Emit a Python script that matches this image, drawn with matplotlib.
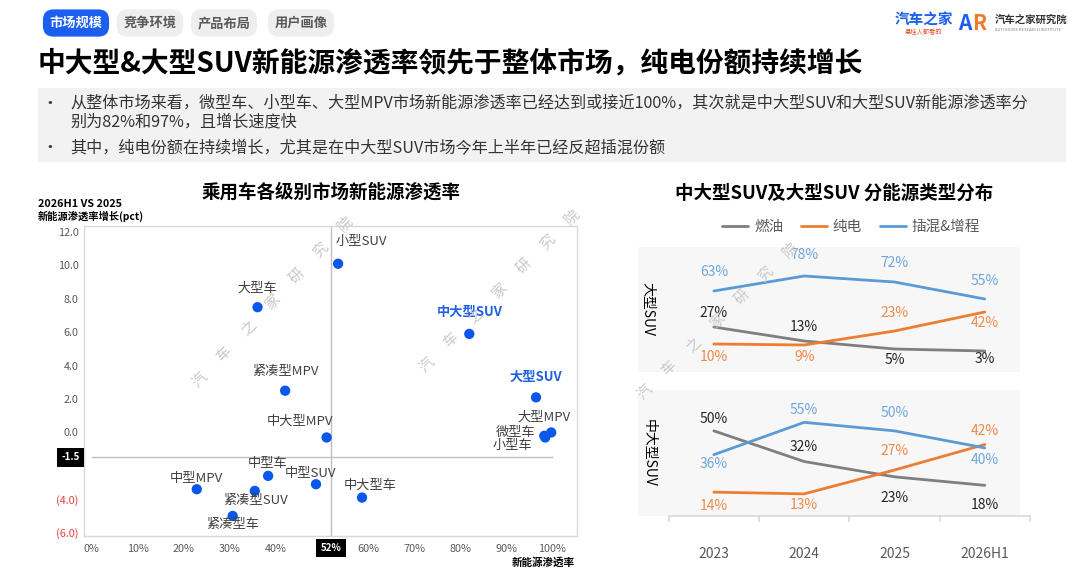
import matplotlib.pyplot as plt
import numpy as np
from matplotlib.patches import Rectangle
import matplotlib.transforms as mtransforms

plt.rcParams['font.family'] = ['Noto Sans CJK SC', 'DejaVu Sans']

W, H = 1080, 578

# ---- data: scatter (渗透率 %, 增长 pct)
names = ['小型SUV', '大型车', '紧凑型MPV', '中大型MPV', '中型车', '中型SUV', '中型MPV',
         '紧凑型SUV', '紧凑型车', '中大型车', '中大型SUV', '大型SUV', '大型MPV', '微型车', '小型车']
pen = [53.5, 36.0, 42.0, 51.0, 38.3, 48.7, 22.8, 35.4, 30.6, 58.7, 82.0, 96.5, 99.8, 98.5, 98.3]
grow = [10.1, 7.5, 2.5, -0.3, -2.6, -3.1, -3.4, -3.5, -5.0, -3.9, 5.9, 2.1, 0.0, -0.3, -0.2]
cross_x = 52
cross_y = -1.5
highlight = ['中大型SUV', '大型SUV']

# ---- data: energy type shares
years = ['2023', '2024', '2025', '2026H1']
series = ['燃油', '纯电', '插混&增程']
large_suv = {'燃油': [27, 13, 5, 3], '纯电': [10, 9, 23, 42], '插混&增程': [63, 78, 72, 55]}
midlarge_suv = {'燃油': [50, 32, 23, 18], '纯电': [14, 13, 27, 42], '插混&增程': [36, 55, 50, 40]}

line_col = {'燃油': '#7f7f7f', '纯电': '#ed7d31', '插混&增程': '#5b9bd5'}
lab_col = {'燃油': '#262626', '纯电': '#f08a4b', '插混&增程': '#6fa6dc'}

# label offsets (px) for the scatter labels: dx, dy, ha
lab_off = {'小型SUV': (-3, 22, 'left'), '大型车': (0, 19, 'center'), '紧凑型MPV': (0, 19, 'center'),
           '中大型MPV': (-27, 16, 'center'), '中型车': (-1, 12, 'center'), '中型SUV': (-6, 11, 'center'),
           '中型MPV': (0, 11, 'center'), '紧凑型SUV': (1, -10, 'center'), '紧凑型车': (0, -9, 'center'),
           '中大型车': (8, 12, 'center'), '中大型SUV': (0, 22, 'center'), '大型SUV': (0, 21, 'center'),
           '大型MPV': (-7, 15, 'center'), '微型车': (-10, 5, 'right'), '小型车': (-12, -10, 'right')}
top_off = {'燃油': [14, 14, -11, -8], '纯电': [-13, -12, 18, -11], '插混&增程': [19, 21, 19, 18]}
bot_off = {'燃油': [12, 15, -21, -20], '纯电': [-14, -11, 19, 13], '插混&增程': [-9, 12, 18, -12]}


def fx(x):
    return x / W


def fy(y):
    return 1 - y / H


def rect(x0, y0, x1, y1):
    return [x0 / W, 1 - y1 / H, (x1 - x0) / W, (y1 - y0) / H]


fig = plt.figure(figsize=(W / 100, H / 100), dpi=100)
fig.patch.set_facecolor('white')

# ---- header tabs
tabs = ['市场规模', '竞争环境', '产品布局', '用户画像']
tab_x = [76, 150, 224, 301]
for i, t in enumerate(tabs):
    if i == 0:
        fig.text(fx(tab_x[i]), fy(23), t, ha='center', va='center', fontsize=9.5, color='white',
                 weight='bold', bbox=dict(boxstyle='round,pad=0.5,rounding_size=0.8', fc='#1a5ff0', ec='none'))
    else:
        fig.text(fx(tab_x[i]), fy(23), t, ha='center', va='center', fontsize=9.5, color='#595959',
                 weight='bold', bbox=dict(boxstyle='round,pad=0.5,rounding_size=0.8', fc='#eeeeee', ec='none'))

# logos
fig.text(fx(924), fy(20), '汽车之家', ha='center', va='center', fontsize=10.5, color='#1a5ff0', weight='bold')
fig.text(fx(924), fy(32), '悬挂人都看的', ha='center', va='center', fontsize=4.5, color='#e8502a')
fig.text(fx(958), fy(23), 'A', ha='left', va='center', fontsize=15, color='#1a5ff0', weight='bold')
fig.text(fx(972), fy(23), 'R', ha='left', va='center', fontsize=15, color='#f07a2a', weight='bold')
fig.text(fx(995), fy(20), '汽车之家研究院', ha='left', va='center', fontsize=7.5, color='#333333', weight='bold')
fig.text(fx(995), fy(30), 'AUTOHOME RESEARCH INSTITUTE', ha='left', va='center', fontsize=3, color='#888888')

# title
fig.text(fx(38), fy(63), '中大型&大型SUV新能源渗透率领先于整体市场，纯电份额持续增长', ha='left', va='center',
         fontsize=20, weight='bold', color='#000000')

# bullet box
fig.patches.append(Rectangle((fx(38), fy(162)), fx(1066) - fx(38), fy(88) - fy(162),
                             transform=fig.transFigure, fc='#f2f2f2', ec='none', zorder=0))
bullets = [(103, '从整体市场来看，微型车、小型车、大型MPV市场新能源渗透率已经达到或接近100%，其次就是中大型SUV和大型SUV新能源渗透率分', True),
           (122, '别为82%和97%，且增长速度快', False),
           (148, '其中，纯电份额在持续增长，尤其是在中大型SUV市场今年上半年已经反超插混份额', True)]
for y, t, dot in bullets:
    if dot:
        fig.text(fx(50), fy(y), '•', ha='center', va='center', fontsize=12, color='#333333')
    fig.text(fx(70), fy(y), t, ha='left', va='center', fontsize=11.6, color='#333333')

# ---- scatter chart
ax = fig.add_axes(rect(84, 226, 577, 536))
ax.set_xlim(-1.7, 105.4)
ax.set_ylim(-6.2, 12.36)
for s in ax.spines.values():
    s.set_color('#d9d9d9')
    s.set_linewidth(1)
ax.axvline(cross_x, color='#bfbfbf', lw=1, zorder=1)
ax.plot([0, 100], [cross_y, cross_y], color='#bfbfbf', lw=1, zorder=1)
ax.scatter(pen, grow, s=55, color='#0b57eb', zorder=3, edgecolors='none')
for n, x, y in zip(names, pen, grow):
    dx, dy, ha = lab_off[n]
    if n in highlight:
        ax.annotate(n, (x, y), xytext=(dx * 0.72, dy * 0.72), textcoords='offset points', ha=ha,
                    va='center', fontsize=9.5, color='#2160e0', weight='bold')
    else:
        ax.annotate(n, (x, y), xytext=(dx * 0.72, dy * 0.72), textcoords='offset points', ha=ha,
                    va='center', fontsize=9.5, color='#404040')

yt = [12, 10, 8, 6, 4, 2, 0, -4, -6]
ax.set_yticks(yt)
ax.set_yticklabels(['%.1f' % v if v >= 0 else '(%.1f)' % abs(v) for v in yt])
xt = [v for v in range(0, 101, 10) if v != 50]
ax.set_xticks(xt)
ax.set_xticklabels(['%d%%' % v for v in xt])
ax.tick_params(axis='both', length=0, labelsize=7.8, colors='#595959')
ax.tick_params(axis='x', pad=6)
ax.tick_params(axis='y', pad=4)
for lab, v in zip(ax.get_yticklabels(), yt):
    lab.set_color('#e8403a' if v < 0 else '#595959')

tr_y = mtransforms.blended_transform_factory(ax.transAxes, ax.transData)
ax.text(-0.028, cross_y, '%.1f' % cross_y, transform=tr_y, ha='center', va='center', fontsize=7,
        color='white', weight='bold', bbox=dict(boxstyle='square,pad=0.45', fc='black', ec='none'), clip_on=False)
tr_x = mtransforms.blended_transform_factory(ax.transData, ax.transAxes)
ax.text(cross_x, -0.039, '%d%%' % cross_x, transform=tr_x, ha='center', va='center', fontsize=7,
        color='white', weight='bold', bbox=dict(boxstyle='square,pad=0.45', fc='black', ec='none'), clip_on=False)

fig.text(fx(38), fy(204), '2026H1 VS 2025', ha='left', va='center', fontsize=7.8, weight='bold', color='#000000')
fig.text(fx(38), fy(216), '新能源渗透率增长(pct)', ha='left', va='center', fontsize=7.4, weight='bold', color='#000000')
fig.text(fx(575), fy(562), '新能源渗透率', ha='right', va='center', fontsize=7.6, weight='bold', color='#000000')
fig.text(fx(331), fy(192), '乘用车各级别市场新能源渗透率', ha='center', va='center', fontsize=13.3, weight='bold')

# ---- right panel
fig.text(fx(834), fy(193), '中大型SUV及大型SUV 分能源类型分布', ha='center', va='center', fontsize=13.3, weight='bold')

xs = np.arange(len(years))
panels = [(rect(638, 247, 1020, 372), large_suv, top_off, (-18, 107), '大型SUV'),
          (rect(638, 390, 1020, 516), midlarge_suv, bot_off, (0, 74), '中大型SUV')]
axes = []
for r, data, off, yl, name in panels:
    a = fig.add_axes(r)
    a.set_facecolor('#f7f7f7')
    for s in a.spines.values():
        s.set_visible(False)
    a.set_xlim(-0.84, 3.39)
    a.set_ylim(*yl)
    a.set_yticks([])
    for k in series:
        a.plot(xs, data[k], color=line_col[k], lw=2, label=k, solid_capstyle='round')
        for x, v, o in zip(xs, data[k], off[k]):
            a.annotate('%d%%' % v, (x, v), xytext=(0, o * 0.72), textcoords='offset points', ha='center',
                       va='center', fontsize=10, color=lab_col[k])
    a.text(-0.72, sum(yl) / 2, name, rotation=-90, ha='center', va='center', fontsize=10, color='#000000')
    axes.append(a)

top, bot = axes
top.set_xticks([])
bot.set_xticks(xs)
bot.set_xticklabels(years)
bot.tick_params(axis='x', length=0, pad=22, labelsize=10, labelcolor='#595959')
bot.plot([-0.5, 3.5], [0, 0], color='#d9d9d9', lw=1.2, clip_on=False)
for b in np.arange(-0.5, 3.6, 1):
    bot.plot([b, b], [0, -3], color='#d9d9d9', lw=1.2, clip_on=False)

h, l = top.get_legend_handles_labels()
fig.legend(h, l, loc='center', bbox_to_anchor=(fx(851), fy(227)), ncol=3, frameon=False, fontsize=10.5,
           handlelength=1.8, columnspacing=1.2, handletextpad=0.4, labelcolor='#595959')

# ---- watermarks
marks = [((200, 380), (345, 224)), ((427, 365), (572, 217)), ((645, 392), (790, 250))]
wm = '汽车之家研究院'
for (x0, y0), (x1, y1) in marks:
    for i, ch in enumerate(wm):
        t = i / (len(wm) - 1)
        fig.text(fx(x0 + (x1 - x0) * t), fy(y0 + (y1 - y0) * t), ch, ha='center', va='center', fontsize=10.5,
                 color='#c8c8c8', rotation=45, zorder=10)

fig.savefig('out.png', dpi=100)
